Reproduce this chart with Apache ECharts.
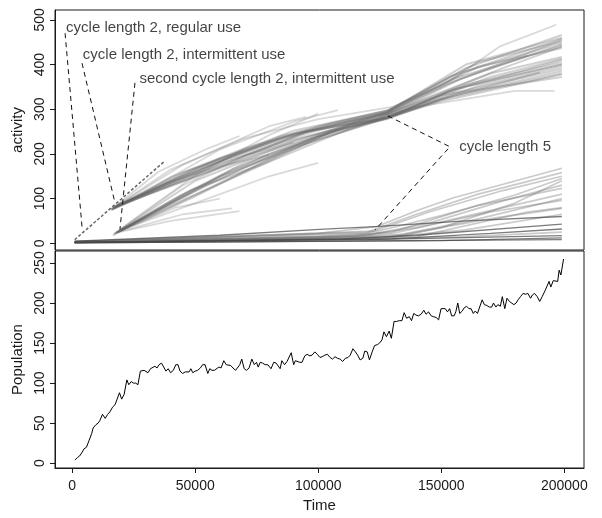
<!DOCTYPE html>
<html>
<head>
<meta charset="utf-8">
<script src="https://cdn.jsdelivr.net/npm/echarts@6/dist/echarts.min.js"></script>
<style>
html, body { margin: 0; padding: 0; background: #fff; }
#main { width: 602px; height: 518px; }
</style>
</head>
<body>
<div id="main"></div>
<script>
var activityTicks = [0, 100, 200, 300, 400, 500];
var populationTicks = [0, 50, 100, 150, 200, 250];
var timeTicks = [0, 50000, 100000, 150000, 200000];

// cycle length 2, regular use
var regularUse = [[1000, 8], [37600, 184]];

// cycle length 2 bands (intermittent use), main traces
var bandTraces = [
	[[16000, 76], [40000, 148], [70000, 212], [100000, 262], [128000, 296], [153000, 372], [199000, 458]],
	[[16500, 78], [45000, 158], [80000, 228], [110000, 270], [128000, 290], [160000, 385], [199000, 448]],
	[[17000, 80], [50000, 165], [90000, 245], [128000, 282], [153000, 340], [199000, 410]],
	[[17500, 82], [40000, 128], [75000, 198], [105000, 250], [128000, 279], [155000, 345], [199000, 400]],
	[[18000, 84], [55000, 172], [85000, 240], [128000, 293], [160000, 392], [199000, 466]],
	[[16500, 78], [50000, 155], [95000, 248], [128000, 288], [170000, 380], [199000, 417]],
	[[17500, 82], [65000, 195], [100000, 256], [128000, 292], [155000, 362], [199000, 455]],
	[[16000, 75], [35000, 120], [60000, 178], [90000, 232], [128000, 284], [150000, 330], [199000, 390]],
	[[16500, 18], [40000, 90], [70000, 170], [100000, 240], [128000, 283], [160000, 355], [199000, 405]],
	[[17500, 22], [45000, 110], [80000, 200], [110000, 262], [128000, 289], [170000, 372], [199000, 413]],
	[[18500, 25], [50000, 105], [90000, 215], [128000, 280], [165000, 352], [199000, 395]],
	[[19000, 28], [40000, 85], [75000, 170], [105000, 250], [128000, 278], [150000, 322], [199000, 380]],
	[[19500, 28], [55000, 132], [85000, 205], [115000, 270], [128000, 291], [175000, 392], [199000, 440]],
	[[20000, 30], [60000, 150], [100000, 232], [128000, 281], [155000, 335], [199000, 372]],
	[[18000, 24], [48000, 118], [78000, 178], [108000, 246], [128000, 287], [158000, 368], [199000, 445]],
	[[16000, 75], [45000, 150], [85000, 236], [128000, 294], [160000, 400], [199000, 460]],
	[[17000, 80], [55000, 160], [95000, 250], [128000, 281], [150000, 318], [199000, 378]],
	[[18500, 86], [60000, 190], [105000, 268], [128000, 297], [165000, 405], [199000, 452]],
	[[19000, 27], [65000, 165], [100000, 238], [128000, 282], [160000, 350], [199000, 400]],
	[[17000, 21], [50000, 140], [90000, 228], [128000, 294], [165000, 395], [199000, 437]],
	[[18000, 24], [45000, 95], [80000, 188], [112000, 262], [128000, 280], [155000, 330], [199000, 385]],
	[[16500, 77], [50000, 168], [90000, 252], [128000, 297], [155000, 368], [199000, 442]],
	[[20000, 30], [40000, 95], [70000, 180], [110000, 258], [128000, 283], [145000, 315], [190000, 382]]
];

// lighter traces that wander off or stop early
var bandOutliers = [
	[[15500, 74], [35000, 160], [55000, 212], [68000, 240]],
	[[17000, 80], [45000, 176], [80000, 262], [95000, 283]],
	[[18000, 85], [50000, 150], [90000, 230], [120000, 275], [140000, 305], [180000, 341], [196000, 341]],
	[[17000, 80], [60000, 182], [100000, 252], [128000, 292], [150000, 350], [173600, 440], [196700, 489]],
	[[17000, 80], [40000, 138], [60000, 172], [80000, 198]],
	[[20000, 85], [60000, 210], [90000, 272], [108000, 298]],
	[[18000, 24], [40000, 50], [68000, 72]],
	[[18500, 25], [45000, 65], [65000, 78]],
	[[17000, 20], [45000, 130], [70000, 196], [90000, 226]],
	[[19000, 30], [50000, 152], [80000, 242], [100000, 290]],
	[[19000, 27], [42000, 80], [60000, 100]],
	[[16000, 76], [40000, 165], [70000, 235], [100000, 278], [130000, 305], [150000, 352], [185000, 420]],
	[[19500, 29], [50000, 90], [80000, 150], [100000, 180]]
];

// cycle length 5
var cycle5Dark = [
	[[1000, 5], [60000, 18], [100500, 31], [124900, 38], [160000, 50], [199000, 60]],
	[[1000, 2], [120000, 8], [199000, 17]],
	[[1000, 1], [199000, 8]],
	[[1000, 2], [130000, 10], [170000, 22], [199000, 32]],
	[[1000, 1], [150000, 6], [199000, 12]],
	[[1000, 2], [110000, 10], [140000, 18], [199000, 43]]
];
var cycle5Light = [
	[[1000, 4], [100000, 22], [123500, 37], [141000, 75], [155000, 102], [199000, 168]],
	[[1000, 3], [120000, 25], [140000, 65], [165000, 110], [199000, 158]],
	[[1000, 4], [120000, 22], [145000, 70], [175000, 118], [199000, 150]],
	[[1000, 3], [100000, 15], [130000, 25], [165000, 85], [199000, 123]],
	[[1000, 3], [100000, 12], [130000, 22], [170000, 70], [199000, 96]],
	[[1000, 3], [110000, 14], [135000, 20], [170000, 55], [199000, 78]],
	[[1000, 2], [120000, 10], [160000, 15], [199000, 25]],
	[[1000, 2], [130000, 12], [150000, 35], [180000, 90], [199000, 140]],
	[[1000, 3], [120000, 18], [145000, 45], [175000, 95], [199000, 130]],
	[[1000, 3], [115000, 16], [140000, 35], [199000, 110]],
	[[1000, 2], [125000, 12], [160000, 30], [199000, 65]],
	[[1000, 2], [140000, 15], [185000, 70], [199000, 80]],
	[[1000, 3], [125000, 28], [150000, 62], [180000, 108], [199000, 145]],
	[[1000, 2], [130000, 16], [160000, 48], [199000, 100]]
];

var population = [
	[1100, 4], [2100, 7], [3000, 9], [4100, 14], [4800, 18], [5800, 20], [6800, 28], [7900, 37], [8500, 44], [9600, 48],
	[10500, 50], [11200, 53], [12300, 61], [13400, 56], [14400, 61], [15300, 64], [16400, 70], [17400, 73], [18100, 75], [19200, 88],
	[20100, 80], [21100, 86], [22200, 104], [23000, 98], [24000, 102], [24900, 100], [25800, 100], [26700, 98], [27700, 115], [28500, 113],
	[29200, 116], [29900, 118], [30800, 113], [31800, 118], [32600, 117], [33600, 121], [34500, 119], [35300, 123], [36300, 125], [37000, 123],
	[38100, 115], [39000, 118], [40000, 113], [41100, 116], [42100, 123], [43000, 123], [43800, 115], [44900, 112], [45900, 114], [46600, 116],
	[47500, 114], [48200, 118], [49000, 113], [50000, 115], [51000, 116], [52100, 119], [53000, 123], [54000, 123], [55100, 112], [55900, 118],
	[56800, 116], [57800, 116], [58600, 114], [59600, 120], [60500, 119], [61600, 128], [62600, 123], [63400, 123], [64400, 122], [65300, 119],
	[66400, 116], [67100, 118], [68100, 123], [68900, 130], [69900, 118], [70800, 116], [71900, 119], [73000, 130], [74000, 123], [74900, 126],
	[75600, 120], [76400, 126], [77400, 125], [78400, 123], [79500, 123], [80100, 123], [80800, 118], [81900, 126], [82900, 125], [83600, 126],
	[84500, 118], [85200, 128], [86300, 123], [87300, 127], [88100, 129], [89000, 138], [90000, 123], [90700, 128], [91500, 126], [92500, 126],
	[93400, 126], [94500, 134], [95500, 136], [96600, 134], [97500, 135], [98600, 139], [99600, 136], [100700, 132], [101600, 133], [102700, 135],
	[103700, 136], [104800, 132], [105800, 130], [106800, 133], [107800, 131], [108900, 130], [109900, 127], [111000, 131], [112100, 132], [113000, 135],
	[114100, 143], [115100, 139], [116000, 135], [117000, 129], [118100, 131], [118900, 140], [119900, 139], [120800, 129], [121900, 139], [122900, 147],
	[124000, 148], [124900, 150], [125900, 154], [126700, 164], [127700, 158], [128800, 165], [129700, 156], [130800, 177], [131800, 177], [132900, 178],
	[134000, 178], [134900, 188], [135900, 181], [137000, 183], [137900, 178], [138800, 187], [139700, 185], [140700, 184], [141800, 186], [142900, 191],
	[143800, 186], [144800, 189], [145900, 184], [146800, 183], [147900, 182], [148900, 179], [149900, 193], [150700, 191], [151600, 193], [152500, 189],
	[153400, 193], [154200, 184], [155200, 184], [155900, 189], [156700, 200], [157500, 187], [158500, 190], [159300, 194], [160300, 196], [161200, 193],
	[162100, 193], [163000, 187], [163800, 190], [164700, 187], [165500, 189], [166600, 204], [167500, 198], [168500, 197], [169500, 195], [170500, 195],
	[171200, 200], [172200, 195], [173000, 198], [174000, 196], [174800, 208], [175800, 193], [176700, 206], [177700, 202], [178500, 202], [179500, 198],
	[180400, 200], [181200, 204], [182200, 208], [183200, 212], [184200, 211], [185200, 212], [186300, 206], [187000, 210], [187900, 212], [189000, 208],
	[190000, 202], [191000, 208], [192100, 215], [192900, 213], [193800, 227], [194500, 220], [195500, 228], [196300, 229], [197300, 227], [197900, 241],
	[198600, 235], [199700, 255]
];

// annotation texts and their dashed pointers, in data units of the top panel
var noteTexts = [
	[-2500, 482, 'cycle length 2, regular use'],
	[4300, 421, 'cycle length 2, intermittent use'],
	[27300, 369, 'second cycle length 2, intermittent use'],
	[157300, 216, 'cycle length 5']
];
var notePointers = [
	[[-2900, 470], [3980, 37]],
	[[3980, 403], [17400, 90]],
	[[25500, 359], [19400, 32]],
	[[128300, 285], [153500, 216], [123100, 30]]
];

var fontFamily = 'Liberation Sans, Arial, Helvetica, sans-serif';
var ink = '#1a1a1a';

function traceSeries(list, color, width) {
	return list.map(function(d) {
		return {
			type : 'line',
			xAxisIndex : 0,
			yAxisIndex : 0,
			data : d,
			showSymbol : false,
			silent : true,
			lineStyle : { color : color, width : width }
		};
	});
}

var series = [];
series = series.concat(traceSeries(bandOutliers, 'rgba(130,130,130,0.3)', 1.8));
series = series.concat(traceSeries(bandTraces, 'rgba(100,100,100,0.3)', 2));
series = series.concat(traceSeries(cycle5Light, 'rgba(115,115,115,0.38)', 1.7));
series = series.concat(traceSeries(cycle5Dark, 'rgba(70,70,70,0.7)', 1.3));
series.push({
	type : 'line',
	xAxisIndex : 0,
	yAxisIndex : 0,
	data : regularUse,
	showSymbol : false,
	silent : true,
	lineStyle : { color : '#666', width : 1.5, type : [3, 2] }
});
notePointers.forEach(function(p) {
	series.push({
		type : 'line',
		xAxisIndex : 0,
		yAxisIndex : 0,
		data : p,
		showSymbol : false,
		silent : true,
		z : 5,
		lineStyle : { color : '#111', width : 1, type : [5, 4] }
	});
});
series.push({
	type : 'scatter',
	xAxisIndex : 0,
	yAxisIndex : 0,
	data : noteTexts,
	symbolSize : 0,
	silent : true,
	z : 6,
	label : {
		show : true,
		position : 'right',
		distance : 0,
		color : '#111',
		fontSize : 15,
		fontFamily : fontFamily,
		formatter : function(p) { return p.data[2]; }
	}
});
series.push({
	type : 'line',
	xAxisIndex : 1,
	yAxisIndex : 1,
	data : population,
	showSymbol : false,
	silent : true,
	lineStyle : { color : '#000', width : 1 }
});

function yAxisOf(idx, min, max, ticks, name) {
	return {
		type : 'value',
		gridIndex : idx,
		min : min,
		max : max,
		name : name,
		nameLocation : 'middle',
		nameGap : 29,
		nameTextStyle : { color : ink, fontSize : 15, fontFamily : fontFamily },
		axisLine : { show : true, onZero : false, lineStyle : { color : ink } },
		axisTick : { show : true, length : 5, customValues : ticks, lineStyle : { color : ink } },
		axisLabel : {
			customValues : ticks,
			rotate : 90,
			margin : 8,
			color : ink,
			fontSize : 14,
			fontFamily : fontFamily
		},
		splitLine : { show : false }
	};
}

var myChart = echarts.init(document.getElementById('main'));
var option = {
	animation : false,
	backgroundColor : '#fff',
	grid : [
		{ left : 55, top : 10, width : 529, height : 240, show : true, borderColor : ink, borderWidth : 1 },
		{ left : 55, top : 251, width : 529, height : 217, show : true, borderColor : ink, borderWidth : 1 }
	],
	xAxis : [
		{
			type : 'value', gridIndex : 0, min : -7000, max : 208000,
			axisLine : { show : false }, axisTick : { show : false },
			axisLabel : { show : false }, splitLine : { show : false }
		},
		{
			type : 'value', gridIndex : 1, min : -7000, max : 208000,
			name : 'Time', nameLocation : 'middle', nameGap : 30,
			nameTextStyle : { color : ink, fontSize : 15, fontFamily : fontFamily },
			axisLine : { show : true, onZero : false, lineStyle : { color : ink } },
			axisTick : { show : true, length : 5, customValues : timeTicks, lineStyle : { color : ink } },
			axisLabel : {
				customValues : timeTicks, margin : 11, color : ink,
				fontSize : 14, fontFamily : fontFamily,
				formatter : function(v) { return String(v); }
			},
			splitLine : { show : false }
		}
	],
	yAxis : [
		yAxisOf(0, -15, 522, activityTicks, 'activity'),
		yAxisOf(1, -6, 265, populationTicks, 'Population')
	],
	series : series
};
myChart.setOption(option);
</script>
</body>
</html>
